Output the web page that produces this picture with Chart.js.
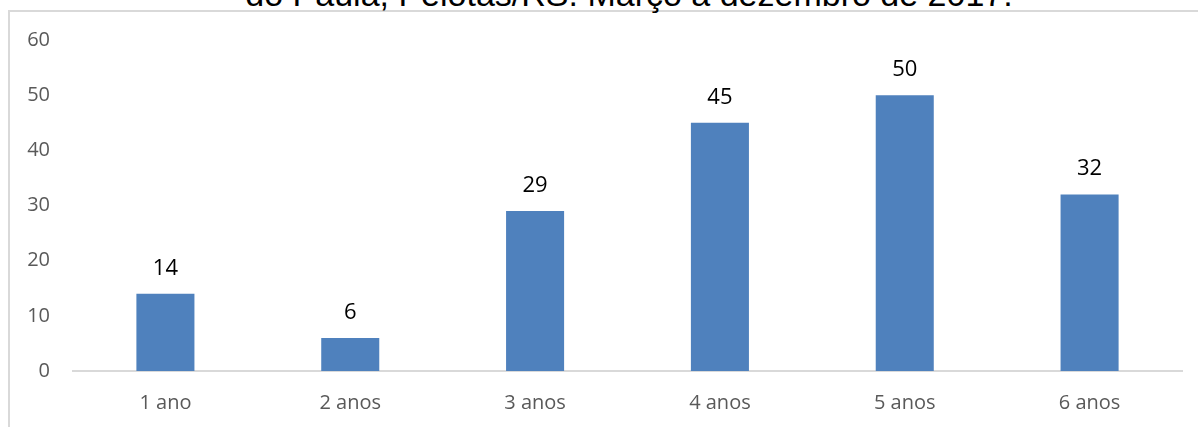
<!DOCTYPE html>
<html>
<head>
<meta charset="utf-8">
<script src="https://cdn.jsdelivr.net/npm/chart.js@4/dist/chart.umd.min.js"></script>
<style>
  html, body { margin: 0; padding: 0; background: #fff; overflow: hidden; }
  #wrap { position: relative; width: 1198px; height: 427px; }
  #frame { position: absolute; left: 8px; top: 10px; width: 1400px; height: 600px;
           border-left: 2px solid #d9d9d9; border-top: 2px solid #d9d9d9; }
  #title { position: absolute; left: 0; width: 1258px; top: -26px; text-align: center;
           font-family: "Liberation Sans", Arial, sans-serif; font-size: 34px; color: #000;
           white-space: nowrap; line-height: 40px; }
  canvas { position: absolute; left: 0; top: 0; }
</style>
</head>
<body>
<div id="wrap">
  <div id="frame"></div>
  <div id="title">do Paula, Pelotas/RS. Março a dezembro de 2017.</div>
  <canvas id="c" width="1198" height="427"></canvas>
</div>
<script>
const categories = ["1 ano", "2 anos", "3 anos", "4 anos", "5 anos", "6 anos"];
const values = [14, 6, 29, 45, 50, 32];
const yTicks = [0, 10, 20, 30, 40, 50, 60];

const labelPlugin = {
  id: 'barLabels',
  afterDatasetsDraw(chart) {
    const ctx = chart.ctx;
    const meta = chart.getDatasetMeta(0);
    ctx.save();
    ctx.font = '22px "Open Sans", "Noto Sans", sans-serif';
    ctx.fillStyle = '#000';
    ctx.textAlign = 'center';
    ctx.textBaseline = 'alphabetic';
    meta.data.forEach((bar, i) => {
      ctx.fillText(String(chart.data.datasets[0].data[i]), bar.x, bar.y - 19);
    });
    ctx.restore();
  }
};

new Chart(document.getElementById('c'), {
  type: 'bar',
  data: {
    labels: categories,
    datasets: [{
      data: values,
      backgroundColor: '#4f81bd',
      categoryPercentage: 1,
      barPercentage: 0.314
    }]
  },
  options: {
    responsive: false,
    animation: false,
    layout: { padding: { left: 0, right: 16, top: 40, bottom: 0 } },
    plugins: { legend: { display: false }, tooltip: { enabled: false } },
    scales: {
      x: {
        grid: { display: false, drawTicks: false },
        border: { display: true, color: '#d9d9d9', width: 2 },
        ticks: { color: '#595959', font: { family: '"Open Sans", "Noto Sans", sans-serif', size: 20 }, padding: 20 },
        afterFit(s) { s.height = 56; }
      },
      y: {
        min: 0, max: 60,
        afterBuildTicks(s) { s.ticks = yTicks.map(v => ({ value: v })); },
        grid: { display: false, drawTicks: false },
        border: { display: false },
        ticks: { color: '#595959', font: { family: '"Open Sans", "Noto Sans", sans-serif', size: 20 }, padding: 23 },
        afterFit(s) { s.width = 73; }
      }
    }
  },
  plugins: [labelPlugin]
});
</script>
</body>
</html>
